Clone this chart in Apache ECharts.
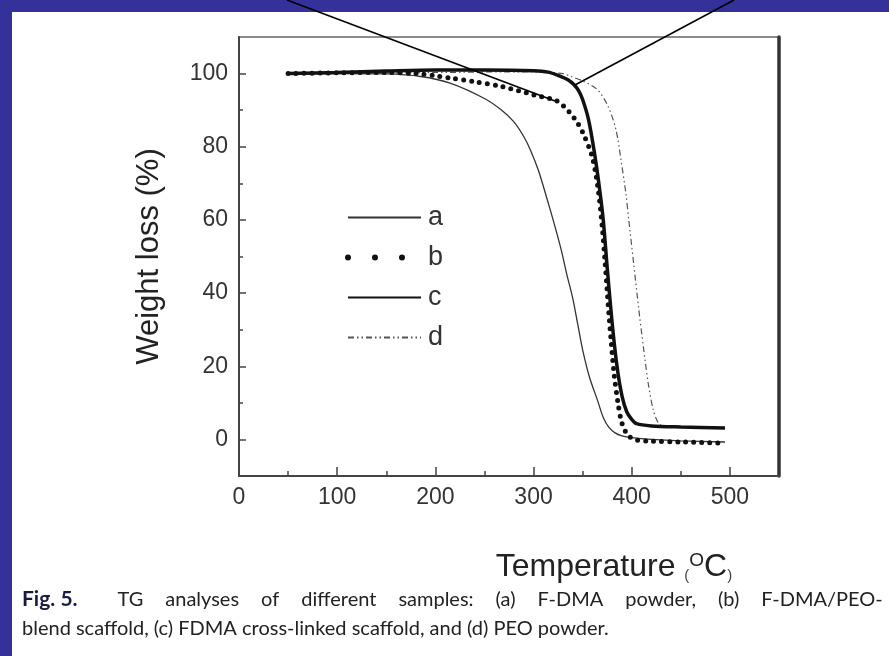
<!DOCTYPE html>
<html><head><meta charset="utf-8">
<script src="https://cdn.jsdelivr.net/npm/echarts@6/dist/echarts.min.js"></script>
<style>html,body{margin:0;padding:0;background:#fff}#c{width:889px;height:656px}</style>
</head><body><div id="c"></div>
<script>
// Temperature (°C) / weight (%) pairs
const aT = [50,100,150,185,215,250,267,280,290,297,305,314,321,328,334,340,345,350,357,365,371,377,383,390,400,420,450,495];
const aW = [100,100,99.9,99.2,97.4,93.2,90.1,86.8,82.8,79,73.5,65.5,59,52,45,38.5,31.5,24.5,17,10.8,6,3.2,1.8,1,0.5,0,-0.4,-0.7];
const bT = [50,100,150,180,200,215,240,267,300,323,331,341,350,360,366,370,373,376,379,382,386,390,396,405,420,450,495];
const bW = [100,100.2,100.3,100,99.4,98.8,97.8,96.5,94.2,92.6,91,88,84,77,68,58,48,37,27,18,10,4.5,1.2,-0.2,-0.5,-0.7,-1];
const cT = [50,100,150,200,250,300,315,328,335,341,346,350,356,362,367,371,375,380,385,390,395,400,405,420,450,495];
const cW = [100,100.3,100.7,101,101,100.8,100.4,99.2,98.3,97,95.3,92.9,87.4,78.4,69,60,47,32,20,12,7.5,5.5,4.3,3.7,3.4,3.1];
const dT = [50,200,300,330,338,350,365,376,384,389,394,397,402,407,412,417,422,427,432];
const dW = [100,100.3,100.5,100,99.2,98,95.6,91,84.6,76.5,67.3,60,48,36,25,15,8,4.5,3.5];
const names = ['a','b','c','d'];
const xMajor = [0,100,200,300,400,500];
const xMinor = [50,150,250,350,450];
const yMajor = [0,20,40,60,80,100];
const yMinor = [10,30,50,70,90];
const captionLine1 = ['TG','analyses','of','different','samples:','(a)','F-DMA','powder,','(b)','F-DMA/PEO-'];
const captionLine2 = 'blend scaffold, (c) FDMA cross-linked scaffold, and (d) PEO powder.';

const zip = (t,w) => t.map((v,i)=>[v,w[i]]);
const chart = echarts.init(document.getElementById('c'));
const axisFont = {fontFamily:'Liberation Sans', fontSize:23, color:'#333'};
const tickStyle = {color:'#444', width:1.5};
const hidden = {axisLine:{show:false, onZero:false}, axisLabel:{show:false}, splitLine:{show:false}};
chart.setOption({
  animation:false,
  backgroundColor:'#34329a',
  graphic:[
    {type:'rect', shape:{x:12,y:12,width:877,height:644}, style:{fill:'#fff'}, z:-10, silent:true},
    {type:'line', shape:{x1:287,y1:0,x2:555,y2:101}, style:{stroke:'#000',lineWidth:1.6}, z:100},
    {type:'line', shape:{x1:734,y1:0,x2:575,y2:85}, style:{stroke:'#000',lineWidth:1.6}, z:100}
  ],
  title:{
    left:22, top:585, padding:0,
    text:'{b|Fig. 5.}{g|}' + captionLine1.join('{s| }') + '\n' + captionLine2,
    textStyle:{fontFamily:'Lato', fontSize:20, color:'#222', fontWeight:'normal', lineHeight:29,
      rich:{
        b:{fontFamily:'Lato', fontSize:21, fontWeight:'bold', color:'#1a1a40', lineHeight:29},
        g:{width:40, lineHeight:29},
        s:{width:22, fontSize:20, lineHeight:29}
      }}
  },
  grid:{left:239, right:110, top:37, bottom:180, show:true, borderColor:'#666', borderWidth:1.5, backgroundColor:'transparent'},
  legend:{
    orient:'vertical', left:345, top:204, padding:0, itemWidth:73, itemHeight:26, itemGap:13,
    textStyle:{fontFamily:'Liberation Sans', fontSize:27, color:'#333', lineHeight:26, padding:[0,0,0,2]},
    itemStyle:{opacity:0},
    data:[
      {name:'a'},
      {name:'b', lineStyle:{type:[0,27], width:6, cap:'round', color:'#111'}},
      {name:'c'},
      {name:'d'}
    ]
  },
  xAxis:[
    {type:'value', min:0, max:550, interval:100, position:'bottom',
     axisLine:{show:true, onZero:false, lineStyle:{color:'#444', width:2}},
     axisTick:{show:false},
     axisLabel:{...axisFont, margin:10, customValues:xMajor},
     splitLine:{show:false},
     name:'{t|Temperature }{p|(}{s|O}{t|C}{p|)}', nameLocation:'middle', nameGap:75,
     nameTextStyle:{padding:[0,0,0,210], rich:{
       t:{fontFamily:'Liberation Sans', fontSize:32, color:'#222', verticalAlign:'bottom'},
       p:{fontFamily:'Liberation Sans', fontSize:15, color:'#444', verticalAlign:'bottom'},
       s:{fontFamily:'Liberation Sans', fontSize:19, color:'#222', verticalAlign:'top'}}}
    },
    {type:'value', min:0, max:550, position:'bottom', ...hidden,
     axisTick:{show:true, inside:true, length:5, customValues:xMinor, lineStyle:tickStyle}},
    {type:'value', min:0, max:550, position:'bottom', ...hidden,
     axisTick:{show:true, inside:true, length:9, customValues:xMajor, lineStyle:tickStyle}}
  ],
  yAxis:[
    {type:'value', min:-10, max:110, interval:10, position:'left',
     axisLine:{show:true, onZero:false, lineStyle:{color:'#444', width:2}},
     axisTick:{show:false},
     axisLabel:{...axisFont, margin:11, customValues:yMajor},
     splitLine:{show:false},
     name:'Weight loss (%)', nameLocation:'middle', nameGap:74, nameRotate:90,
     nameTextStyle:{fontFamily:'Liberation Sans', fontSize:31, color:'#222'}
    },
    {type:'value', min:-10, max:110, position:'left', ...hidden,
     axisTick:{show:true, inside:true, length:4, customValues:yMinor, lineStyle:tickStyle}},
    {type:'value', min:-10, max:110, position:'left', ...hidden,
     axisTick:{show:true, inside:true, length:7, customValues:yMajor, lineStyle:tickStyle}},
    {type:'value', min:-10, max:110, position:'right',
     axisLine:{show:true, onZero:false, lineStyle:{color:'#333', width:3.5}}, axisLabel:{show:false}, axisTick:{show:false}, splitLine:{show:false}}
  ],
  series:[
    {name:names[0], type:'line', data:zip(aT,aW), smooth:0.3, symbol:'none', lineStyle:{color:'#333', width:1.3}, z:3},
    {name:names[1], type:'line', data:zip(bT,bW), smooth:0.3, symbol:'none', lineStyle:{color:'#111', width:5, type:[0,8], cap:'round'}, z:4},
    {name:names[2], type:'line', data:zip(cT,cW), smooth:0.3, symbol:'none', lineStyle:{color:'#111', width:3.5}, z:5},
    {name:names[3], type:'line', data:zip(dT,dW), smooth:0.3, symbol:'none', lineStyle:{color:'#555', width:1.2, type:[6,3,1.5,3,1.5,3]}, z:2}
  ]
});
</script></body></html>
